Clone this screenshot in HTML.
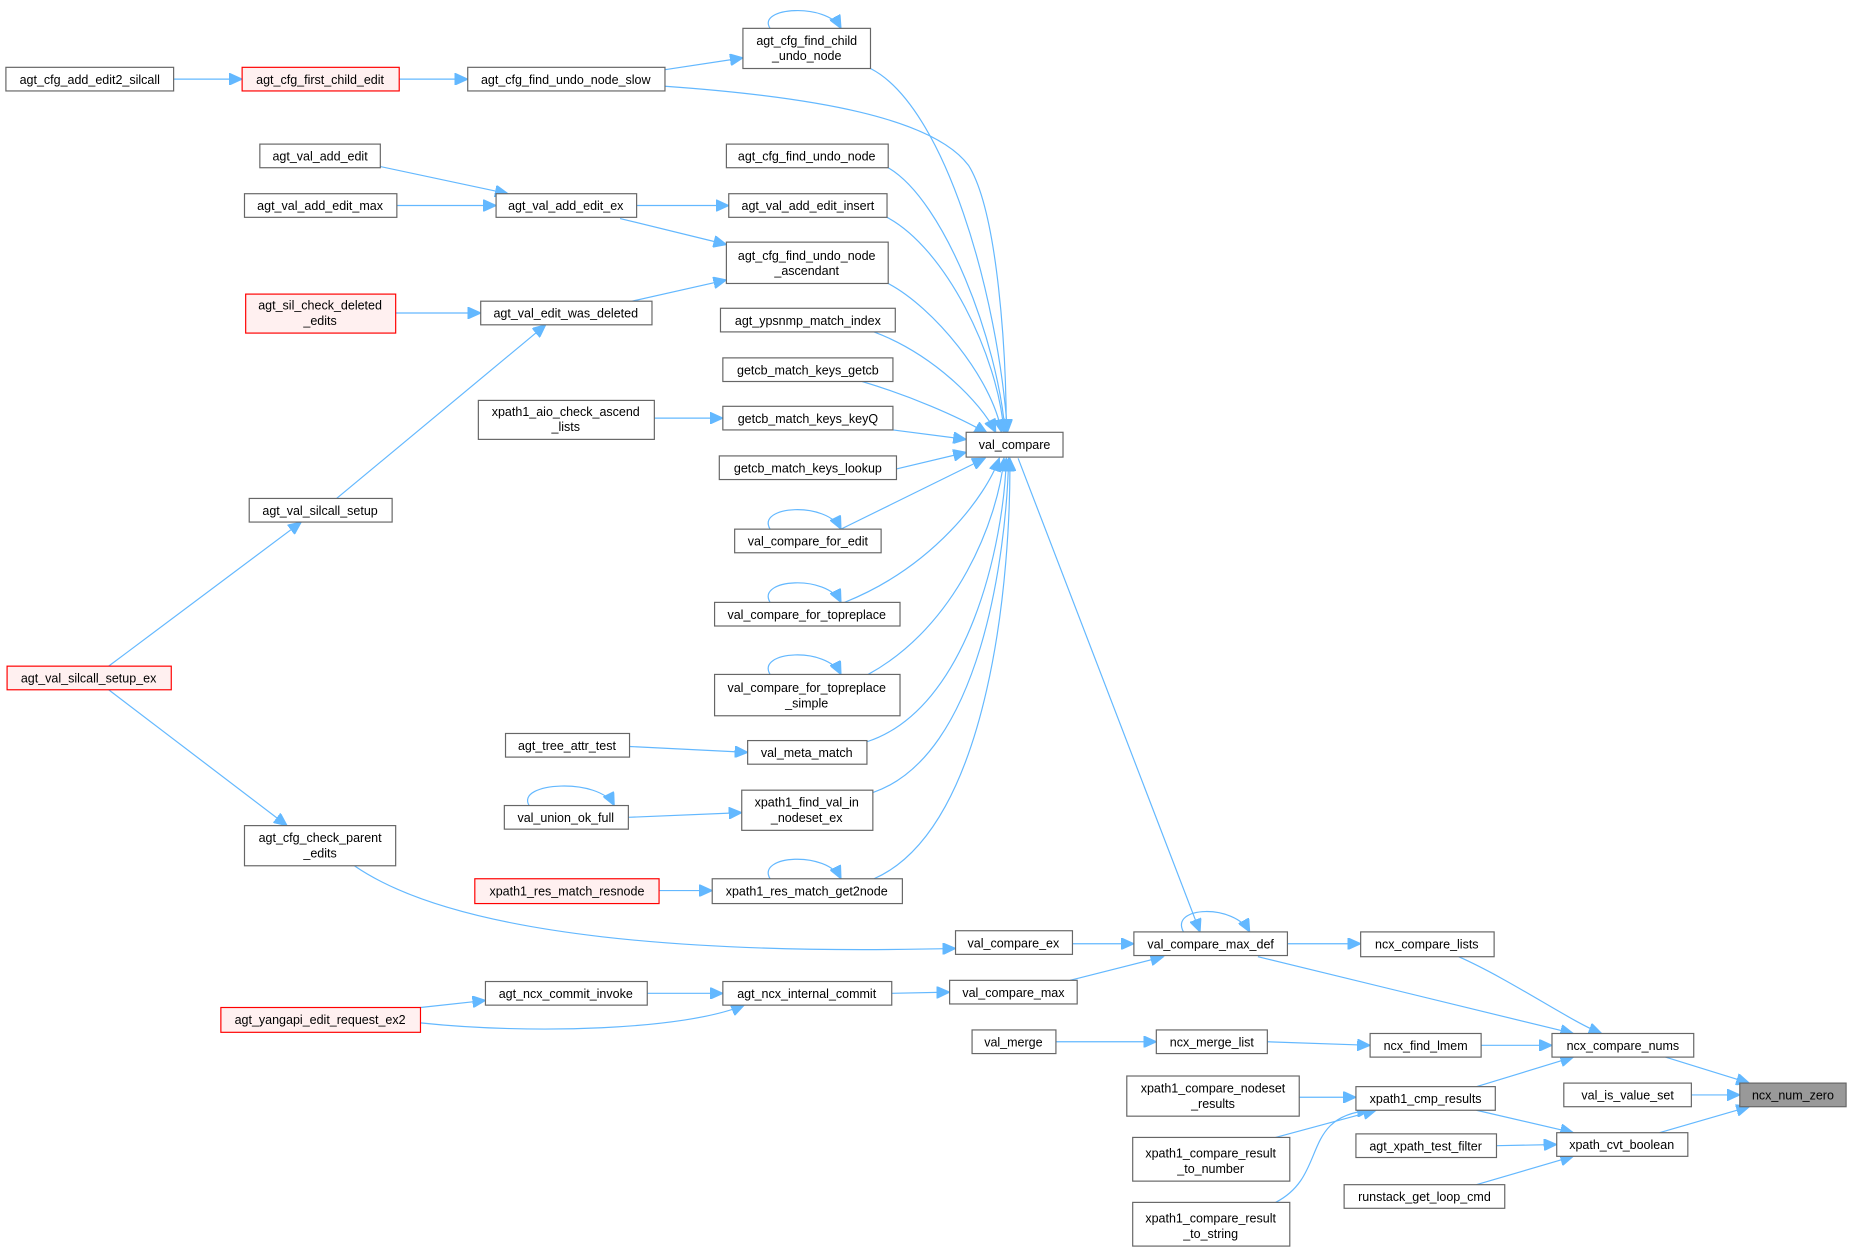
<!DOCTYPE html>
<html><head><meta charset="utf-8"><style>
html,body{margin:0;padding:0;background:#fff;}
svg{display:block;}
text{font-family:"Liberation Sans",Arial,sans-serif;font-size:10.6px;fill:#000;text-anchor:middle;}
.b{fill:#fff;stroke:#666;stroke-width:1;}
.r{fill:#fff0f0;stroke:#f00;stroke-width:1;}
.g{fill:#999;stroke:#666;stroke-width:1;}
.e{fill:none;stroke:#63b8ff;stroke-width:1;marker-end:url(#a);}
</style></head><body>
<svg width="1852" height="1252" viewBox="0 0 1568 1060" xmlns="http://www.w3.org/2000/svg">
<defs><marker id="a" markerUnits="userSpaceOnUse" markerWidth="12" markerHeight="10" refX="11" refY="5" orient="auto"><path d="M0,0 L11,5 L0,10 z" fill="#63b8ff" stroke="#63b8ff"/></marker></defs>

<!-- edges -->
<path class="e" d="M147,67 L205,67"/>
<path class="e" d="M338,67 L396,67"/>
<path class="e" d="M563,59 L629,49"/>
<path class="e" d="M563,73 C690,82 790,100 820,140 C845,180 852,300 852,366"/>
<path class="e" d="M652,24 C640,6 700,2 712,24"/>
<path class="e" d="M737,58 C800,90 845,250 853,366"/>
<path class="e" d="M752,142 C800,170 845,290 851,366"/>
<path class="e" d="M751,184 C800,210 845,300 850,366"/>
<path class="e" d="M752,240 C790,260 840,320 848,366"/>
<path class="e" d="M740,281 C790,300 830,340 843,366"/>
<path class="e" d="M730,323 C770,335 810,352 836,367"/>
<path class="e" d="M756,364 L818,372"/>
<path class="e" d="M759,397 L818,383"/>
<path class="e" d="M712,448 L834,388"/>
<path class="e" d="M652,448 C640,428 700,424 712,448"/>
<path class="e" d="M715,510 C790,480 835,420 846,388"/>
<path class="e" d="M652,510 C640,490 700,486 712,510"/>
<path class="e" d="M735,571 C810,530 845,440 850,388"/>
<path class="e" d="M652,571 C640,551 700,547 712,571"/>
<path class="e" d="M734,628 C820,600 850,460 852,388"/>
<path class="e" d="M739,671 C830,640 852,470 854,388"/>
<path class="e" d="M740,744 C840,700 856,480 855,388"/>
<path class="e" d="M652,744 C640,724 700,720 712,744"/>
<path class="e" d="M322,141 L430,164"/>
<path class="e" d="M336,174 L420,174"/>
<path class="e" d="M539,174 L617,174"/>
<path class="e" d="M525,185 L615,207"/>
<path class="e" d="M335,265 L407,265"/>
<path class="e" d="M535,255 L615,237"/>
<path class="e" d="M554,354 L612,354"/>
<path class="e" d="M285,422 L462,275"/>
<path class="e" d="M92,564 L255,442"/>
<path class="e" d="M92,584 L243,699"/>
<path class="e" d="M533,632 L633,637"/>
<path class="e" d="M532,692 L628,688"/>
<path class="e" d="M448,682 C436,662 508,658 520,682"/>
<path class="e" d="M558,754 L603,754"/>
<path class="e" d="M300,733 C390,795 600,808 809,803"/>
<path class="e" d="M908,799 L960,799"/>
<path class="e" d="M862,388 L1016,789"/>
<path class="e" d="M1002,789 C990,767 1045,765 1058,789"/>
<path class="e" d="M906,830 L985,810"/>
<path class="e" d="M1090,799 L1152,799"/>
<path class="e" d="M1065,810 L1332,875"/>
<path class="e" d="M1235,810 C1280,830 1330,865 1356,875"/>
<path class="e" d="M1254,885 L1314,885"/>
<path class="e" d="M1073,882 L1160,885"/>
<path class="e" d="M894,882 L979,882"/>
<path class="e" d="M548,841 L612,841"/>
<path class="e" d="M755,841 L804,840"/>
<path class="e" d="M356,853 L411,847"/>
<path class="e" d="M356,866 C450,876 580,872 630,851"/>
<path class="e" d="M1250,920 L1332,895"/>
<path class="e" d="M1410,895 L1481,917"/>
<path class="e" d="M1432,927 L1473,927"/>
<path class="e" d="M1405,959 L1481,937"/>
<path class="e" d="M1250,940 L1332,959"/>
<path class="e" d="M1267,970 L1318,969"/>
<path class="e" d="M1250,1003 L1332,979"/>
<path class="e" d="M1100,929 L1148,929"/>
<path class="e" d="M1080,963 L1165,940"/>
<path class="e" d="M1080,1018 C1125,995 1100,945 1160,940"/>

<!-- nodes -->
<g>
<rect class="b" x="5" y="57" width="142" height="20"/><text x="76" y="71">agt_cfg_add_edit2_silcall</text>
<rect class="r" x="205" y="57" width="133" height="20"/><text x="271" y="71">agt_cfg_first_child_edit</text>
<rect class="b" x="396" y="57" width="167" height="20"/><text x="479" y="71">agt_cfg_find_undo_node_slow</text>
<rect class="b" x="629" y="24" width="108" height="34"/><text x="683" y="38">agt_cfg_find_child</text><text x="683" y="51">_undo_node</text>
<rect class="b" x="615" y="122" width="137" height="20"/><text x="683" y="136">agt_cfg_find_undo_node</text>
<rect class="b" x="220" y="122" width="102" height="20"/><text x="271" y="136">agt_val_add_edit</text>
<rect class="b" x="207" y="164" width="129" height="20"/><text x="271" y="178">agt_val_add_edit_max</text>
<rect class="b" x="420" y="164" width="119" height="20"/><text x="479" y="178">agt_val_add_edit_ex</text>
<rect class="b" x="617" y="164" width="134" height="20"/><text x="684" y="178">agt_val_add_edit_insert</text>
<rect class="b" x="615" y="205" width="137" height="35"/><text x="683" y="220">agt_cfg_find_undo_node</text><text x="683" y="233">_ascendant</text>
<rect class="r" x="208" y="249" width="127" height="33"/><text x="271" y="262">agt_sil_check_deleted</text><text x="271" y="275">_edits</text>
<rect class="b" x="407" y="255" width="145" height="20"/><text x="479" y="269">agt_val_edit_was_deleted</text>
<rect class="b" x="610" y="261" width="148" height="20"/><text x="684" y="275">agt_ypsnmp_match_index</text>
<rect class="b" x="612" y="303" width="144" height="20"/><text x="684" y="317">getcb_match_keys_getcb</text>
<rect class="b" x="405" y="339" width="149" height="33"/><text x="479" y="352">xpath1_aio_check_ascend</text><text x="479" y="365">_lists</text>
<rect class="b" x="612" y="344" width="144" height="20"/><text x="684" y="358">getcb_match_keys_keyQ</text>
<rect class="b" x="818" y="366" width="82" height="21"/><text x="859" y="380">val_compare</text>
<rect class="b" x="609" y="386" width="150" height="20"/><text x="684" y="400">getcb_match_keys_lookup</text>
<rect class="b" x="211" y="422" width="121" height="20"/><text x="271" y="436">agt_val_silcall_setup</text>
<rect class="b" x="622" y="448" width="124" height="20"/><text x="684" y="462">val_compare_for_edit</text>
<rect class="b" x="605" y="510" width="157" height="20"/><text x="683" y="524">val_compare_for_topreplace</text>
<rect class="r" x="6" y="564" width="139" height="20"/><text x="75" y="578">agt_val_silcall_setup_ex</text>
<rect class="b" x="605" y="571" width="157" height="35"/><text x="683" y="586">val_compare_for_topreplace</text><text x="683" y="599">_simple</text>
<rect class="b" x="428" y="621" width="105" height="20"/><text x="480" y="635">agt_tree_attr_test</text>
<rect class="b" x="633" y="627" width="101" height="20"/><text x="683" y="641">val_meta_match</text>
<rect class="b" x="427" y="682" width="105" height="20"/><text x="479" y="696">val_union_ok_full</text>
<rect class="b" x="628" y="669" width="111" height="34"/><text x="683" y="683">xpath1_find_val_in</text><text x="683" y="696">_nodeset_ex</text>
<rect class="b" x="207" y="699" width="128" height="34"/><text x="271" y="713">agt_cfg_check_parent</text><text x="271" y="726">_edits</text>
<rect class="r" x="402" y="744" width="156" height="21"/><text x="480" y="758">xpath1_res_match_resnode</text>
<rect class="b" x="603" y="744" width="161" height="21"/><text x="683" y="758">xpath1_res_match_get2node</text>
<rect class="b" x="809" y="788" width="99" height="20"/><text x="858" y="802">val_compare_ex</text>
<rect class="b" x="960" y="789" width="130" height="20"/><text x="1025" y="803">val_compare_max_def</text>
<rect class="b" x="1152" y="789" width="113" height="21"/><text x="1208" y="803">ncx_compare_lists</text>
<rect class="b" x="411" y="831" width="137" height="20"/><text x="479" y="845">agt_ncx_commit_invoke</text>
<rect class="b" x="612" y="831" width="143" height="20"/><text x="683" y="845">agt_ncx_internal_commit</text>
<rect class="b" x="804" y="830" width="108" height="20"/><text x="858" y="844">val_compare_max</text>
<rect class="r" x="187" y="853" width="169" height="21"/><text x="271" y="867">agt_yangapi_edit_request_ex2</text>
<rect class="b" x="823" y="872" width="71" height="20"/><text x="858" y="886">val_merge</text>
<rect class="b" x="979" y="872" width="94" height="20"/><text x="1026" y="886">ncx_merge_list</text>
<rect class="b" x="1160" y="875" width="94" height="20"/><text x="1207" y="889">ncx_find_lmem</text>
<rect class="b" x="1314" y="875" width="120" height="20"/><text x="1374" y="889">ncx_compare_nums</text>
<rect class="b" x="954" y="911" width="146" height="34"/><text x="1027" y="925">xpath1_compare_nodeset</text><text x="1027" y="938">_results</text>
<rect class="b" x="1148" y="920" width="118" height="20"/><text x="1207" y="934">xpath1_cmp_results</text>
<rect class="b" x="1324" y="917" width="108" height="20"/><text x="1378" y="931">val_is_value_set</text>
<rect class="g" x="1473" y="917" width="90" height="20"/><text x="1518" y="931">ncx_num_zero</text>
<rect class="b" x="1148" y="960" width="119" height="20"/><text x="1207" y="974">agt_xpath_test_filter</text>
<rect class="b" x="1318" y="959" width="111" height="20"/><text x="1373" y="973">xpath_cvt_boolean</text>
<rect class="b" x="959" y="963" width="133" height="37"/><text x="1025" y="980">xpath1_compare_result</text><text x="1025" y="993">_to_number</text>
<rect class="b" x="1138" y="1003" width="136" height="20"/><text x="1206" y="1017">runstack_get_loop_cmd</text>
<rect class="b" x="959" y="1018" width="133" height="37"/><text x="1025" y="1035">xpath1_compare_result</text><text x="1025" y="1048">_to_string</text>
</g>
</svg>
</body></html>
